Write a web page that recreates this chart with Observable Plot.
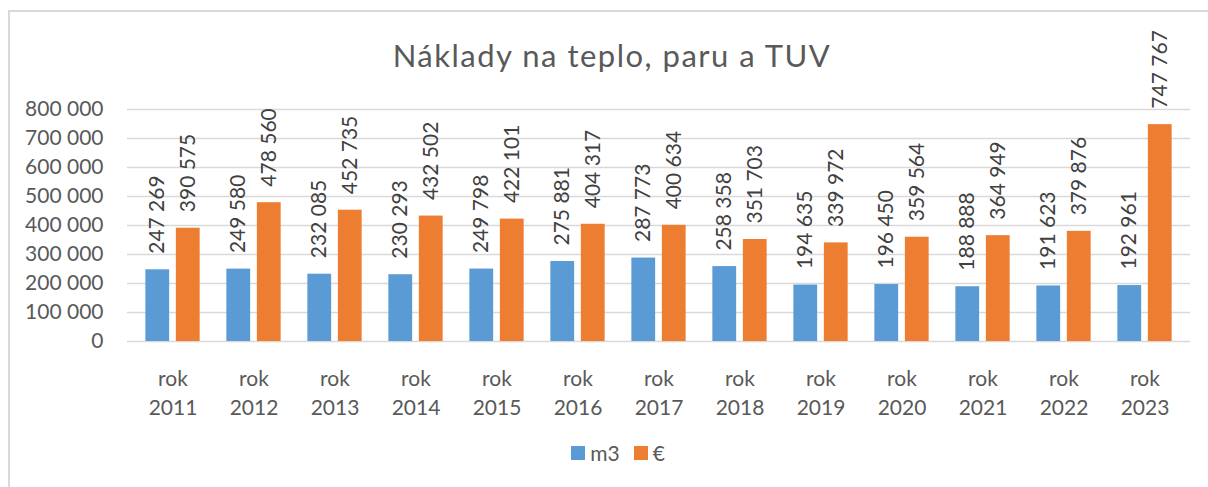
<!DOCTYPE html>
<html>
<head>
<meta charset="utf-8">
<script src="https://cdn.jsdelivr.net/npm/d3@7"></script>
<script src="https://cdn.jsdelivr.net/npm/@observablehq/plot@0.6"></script>
<style>
  body { margin: 0; background: #fff; font-family: Lato, "Open Sans", sans-serif; }
  #wrap { position: relative; width: 1208px; height: 487px; overflow: hidden; background: #fff; }
  #frame { position: absolute; left: 8px; top: 10px; width: 1400px; height: 700px;
           border-left: 2px solid #d9d9d9; border-top: 2px solid #d9d9d9; box-sizing: border-box; }
  #chart { position: absolute; left: 0; top: 0; }
  #title { position: absolute; left: 0; width: 1224px; top: 37px; text-align: center;
           font-size: 31px; letter-spacing: 1.5px; color: #595959; line-height: 36px; }
  #legend { position: absolute; left: 0; width: 1236px; top: 440px; display: flex;
            justify-content: center; align-items: center; font-size: 21px; color: #595959; }
  .sw { display: inline-block; width: 14px; height: 14px; margin-right: 5px; }
  .item { display: inline-flex; align-items: center; margin: 0 7px; }
</style>
</head>
<body>
<div id="wrap">
  <div id="frame"></div>
  <div id="chart"></div>
  <div id="title">Náklady na teplo, paru a TUV</div>
  <div id="legend"></div>
</div>
<script>
// ---- data ----
const years = [2011, 2012, 2013, 2014, 2015, 2016, 2017, 2018, 2019, 2020, 2021, 2022, 2023];
const m3Values = [247269, 249580, 232085, 230293, 249798, 275881, 287773, 258358, 194635, 196450, 188888, 191623, 192961];
const eurValues = [390575, 478560, 452735, 432502, 422101, 404317, 400634, 351703, 339972, 359564, 364949, 379876, 747767];
const seriesNames = ["m3", "€"];
const seriesColors = ["#5B9BD5", "#ED7D31"];
const yTicks = [0, 100000, 200000, 300000, 400000, 500000, 600000, 700000, 800000];

const m3Data = years.map((y, i) => ({year: y, value: m3Values[i], series: seriesNames[0]}));
const eurData = years.map((y, i) => ({year: y, value: eurValues[i], series: seriesNames[1]}));

const fmt = d3.formatLocale({decimal: ",", thousands: " ", grouping: [3], currency: ["", " €"]}).format(",d");

const barInset = 28.6;
const shift = 15.25;
const labelStyle = {rotate: -90, textAnchor: "start", lineAnchor: "middle", dy: -16, fontSize: 21, fill: "#404040"};

const chart = Plot.plot({
  width: 1208,
  height: 430,
  marginLeft: 127,
  marginRight: 18,
  marginTop: 109,
  marginBottom: 89,
  style: {fontFamily: "Lato, 'Open Sans', sans-serif", fontSize: "21px", color: "#595959", background: "transparent"},
  x: {domain: years, padding: 0},
  y: {domain: [0, 800000]},
  marks: [
    Plot.gridY(yTicks, {stroke: "#d9d9d9", strokeOpacity: 1, strokeWidth: 1.4}),
    Plot.barY(m3Data, {x: "year", y: "value", fill: seriesColors[0], insetLeft: barInset, insetRight: barInset, dx: -shift}),
    Plot.barY(eurData, {x: "year", y: "value", fill: seriesColors[1], insetLeft: barInset, insetRight: barInset, dx: shift}),
    Plot.text(m3Data, {x: "year", y: "value", text: d => fmt(d.value), dx: -shift, ...labelStyle}),
    Plot.text(eurData, {x: "year", y: "value", text: d => fmt(d.value), dx: shift, ...labelStyle}),
    Plot.axisY(yTicks, {tickSize: 0, tickPadding: 24, tickFormat: fmt, fontSize: 21, label: null}),
    Plot.axisX({tickSize: 0, tickPadding: 24, tickFormat: d => `rok\n${d}`, fontSize: 21, lineHeight: 1.38, label: null})
  ]
});
document.getElementById("chart").appendChild(chart);

const legend = document.getElementById("legend");
seriesNames.forEach((name, i) => {
  const item = document.createElement("span");
  item.className = "item";
  const sw = document.createElement("span");
  sw.className = "sw";
  sw.style.background = seriesColors[i];
  item.appendChild(sw);
  item.appendChild(document.createTextNode(name));
  legend.appendChild(item);
});
</script>
</body>
</html>
